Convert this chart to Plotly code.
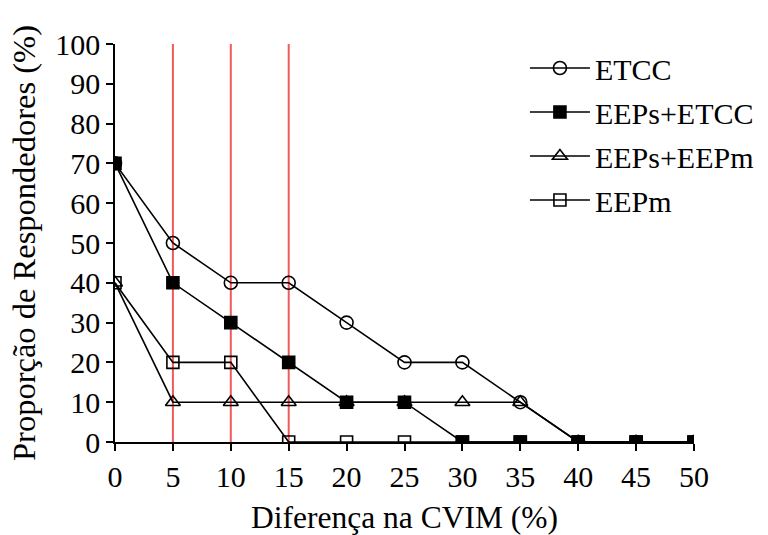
import plotly.graph_objects as go

x_vals = [0, 5, 10, 15, 20, 25, 30, 35, 40, 45, 50]
etcc = [70, 50, 40, 40, 30, 20, 20, 10, 0, 0, 0]
eeps_etcc = [70, 40, 30, 20, 10, 10, 0, 0, 0, 0, 0]
eeps_eepm = [40, 10, 10, 10, 10, 10, 10, 10, 0, 0, 0]
eepm = [40, 20, 20, 0, 0, 0, 0, 0, 0, 0, 0]
ref_lines = [5, 10, 15]
x_ticks = [0, 5, 10, 15, 20, 25, 30, 35, 40, 45, 50]
y_ticks = [0, 10, 20, 30, 40, 50, 60, 70, 80, 90, 100]

FONT = "Liberation Serif, Times New Roman, serif"
fig = go.Figure()

for xv in ref_lines:
    fig.add_shape(type="line", x0=xv, x1=xv, y0=0, y1=100, xref="x", yref="y",
                  line=dict(color="#f05a5a", width=2), layer="below")

series = [
    ("EEPm", eepm, "square-open", 12),
    ("EEPs+EEPm", eeps_eepm, "triangle-up-open", 13),
    ("ETCC", etcc, "circle-open", 13),
    ("EEPs+ETCC", eeps_etcc, "square", 12),
]
order = {"ETCC": 1, "EEPs+ETCC": 2, "EEPs+EEPm": 3, "EEPm": 4}
for name, vals, sym, sz in series:
    fig.add_trace(go.Scatter(
        x=x_vals, y=vals, name=name, mode="lines+markers",
        line=dict(color="black", width=1.6),
        marker=dict(symbol=sym, size=sz, color="black",
                    line=dict(color="black", width=1.6)),
        legendrank=order[name], legendgroup=name,
    ))

axis_common = dict(
    showline=True, linecolor="black", linewidth=1.6, ticks="outside",
    tickcolor="black", ticklen=7, tickwidth=1.6, showgrid=False, zeroline=False,
    tickfont=dict(family=FONT, size=30, color="black"), automargin=False,
)
fig.update_xaxes(range=[0, 50], tickvals=x_ticks, **axis_common,
                 title=dict(text="Diferença na CVIM (%)", font=dict(family=FONT, size=31.5, color="black"), standoff=15))
fig.update_yaxes(range=[0, 100], tickvals=y_ticks, **axis_common,
                 title=dict(text="Proporção de Respondedores (%)", font=dict(family=FONT, size=32.5, color="black"), standoff=10))

fig.update_layout(
    width=768, height=535,
    margin=dict(l=115, r=74, t=44, b=93, autoexpand=False),
    plot_bgcolor="white", paper_bgcolor="white",
    font=dict(family=FONT, color="black"),
    legend=dict(x=0.708, y=1.005, xanchor="left", yanchor="top",
                font=dict(family=FONT, size=30, color="black"),
                bgcolor="rgba(0,0,0,0)", tracegroupgap=2, itemwidth=60),
)
fig.write_html("out.html", config={"displayModeBar": False},
               post_script="document.body.style.margin='0';document.body.style.overflow='hidden';")
